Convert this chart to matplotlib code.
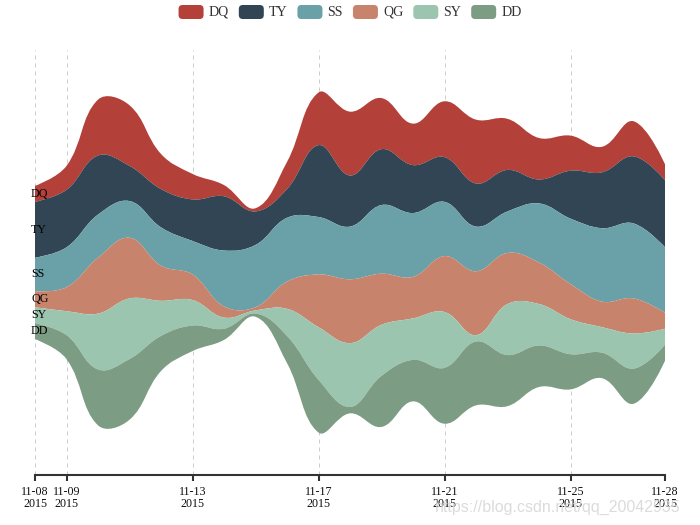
import numpy as np
import matplotlib
matplotlib.use('Agg')
import matplotlib.pyplot as plt
from matplotlib.path import Path
from matplotlib.patches import PathPatch, FancyBboxPatch

# ---------------- data ----------------
dates = ['2015/11/08', '2015/11/09', '2015/11/10', '2015/11/11', '2015/11/12',
         '2015/11/13', '2015/11/14', '2015/11/15', '2015/11/16', '2015/11/17',
         '2015/11/18', '2015/11/19', '2015/11/20', '2015/11/21', '2015/11/22',
         '2015/11/23', '2015/11/24', '2015/11/25', '2015/11/26', '2015/11/27',
         '2015/11/28']
names = ['DQ', 'TY', 'SS', 'QG', 'SY', 'DD']
DQ = [10, 15, 35, 38, 22, 16, 7, 2, 17, 33, 40, 32, 26, 35, 40, 32, 26, 22, 16, 22, 10]
TY = [35, 36, 37, 22, 24, 26, 34, 21, 18, 45, 32, 35, 30, 28, 27, 26, 15, 30, 35, 42, 42]
SS = [21, 25, 27, 23, 24, 21, 35, 39, 40, 36, 33, 43, 40, 34, 28, 26, 37, 41, 46, 47, 41]
QG = [10, 15, 35, 38, 22, 16, 7, 2, 17, 33, 40, 32, 26, 35, 40, 32, 26, 22, 16, 22, 10]
SY = [10, 15, 35, 38, 22, 16, 7, 2, 17, 33, 40, 32, 26, 35, 4, 32, 26, 22, 16, 22, 10]
DD = [10, 15, 35, 38, 22, 16, 7, 2, 17, 33, 4, 32, 26, 35, 40, 32, 26, 22, 16, 22, 10]
tick_dates = ['2015/11/08', '2015/11/09', '2015/11/13', '2015/11/17',
              '2015/11/21', '2015/11/25', '2015/11/28']

series = [DQ, TY, SS, QG, SY, DD]
colors = ['#b4403a', '#324554', '#6aa1a8', '#c8836c', '#9cc5af', '#7c9c83']

# ---------------- layout constants (pixels) ----------------
W, H = 700, 525
ax_left, ax_right = 35, 665
ax_top, ax_bottom = 50, 475
FONT = 'Liberation Serif'

vals = np.array(series, dtype=float)           # layers x points
npts = vals.shape[1]
xs = np.arange(npts, dtype=float)
sums = vals.sum(axis=0)
vmax = sums.max()
base = (vmax - sums) / 2.0                      # centred baseline (silhouette)
gap = 0.125 * vmax                              # 10% boundary gap of rect height

rect_h = ax_bottom - ax_top
ky = (rect_h * 0.8) / vmax                      # px per value unit
kx = (ax_right - ax_left) / (npts - 1)          # px per day


def smooth_curve(px, py, smooth=0.4):
    """ECharts(4)-style smooth bezier through points (pixel-scaled space)."""
    n = len(px)
    verts = []
    cp0 = (px[0], py[0])
    for i in range(1, n):
        x, y = px[i], py[i]
        qx, qy = px[i - 1], py[i - 1]
        if i == n - 1:
            cp1 = (x, y)
            ncp0 = None
        else:
            nx, ny = px[i + 1], py[i + 1]
            vx, vy = nx - qx, ny - qy
            lp = np.hypot(x - qx, y - qy)
            ln = np.hypot(nx - x, ny - y)
            r = ln / (ln + lp)
            cp1 = (x - vx * smooth * (1 - r), y - vy * smooth * (1 - r))
            ncp0 = (x + vx * smooth * r, y + vy * smooth * r)
        verts += [cp0, cp1, (x, y)]
        cp0 = ncp0
    return verts


def to_data(v):
    return [(a / kx, b / ky) for a, b in v]


fig = plt.figure(figsize=(W / 100, H / 100), dpi=100)
ax = fig.add_axes([ax_left / W, (H - ax_bottom) / H,
                   (ax_right - ax_left) / W, rect_h / H])
ax.set_xlim(0, npts - 1)
ax.set_ylim(vmax + gap, -gap)

# split lines
tick_idx = [dates.index(d) for d in tick_dates]
for t in tick_idx:
    ax.axvline(t, color='#cccccc', lw=0.72, dashes=(4, 4), zorder=0)

cum = base.copy()
for j, (name, col) in enumerate(zip(names, colors)):
    top = cum.copy()
    bot = cum + vals[j]
    cum = bot
    tpx, tpy = xs * kx, top * ky
    bpx, bpy = xs[::-1] * kx, bot[::-1] * ky
    verts = [(tpx[0], tpy[0])]
    codes = [Path.MOVETO]
    tv = smooth_curve(tpx, tpy)
    verts += tv
    codes += [Path.CURVE4] * len(tv)
    verts.append((bpx[0], bpy[0]))
    codes.append(Path.LINETO)
    bv = smooth_curve(bpx, bpy)
    verts += bv
    codes += [Path.CURVE4] * len(bv)
    verts.append((tpx[0], tpy[0]))
    codes.append(Path.CLOSEPOLY)
    path = Path(to_data(verts), codes)
    ax.add_patch(PathPatch(path, facecolor=col, edgecolor='none', lw=0, zorder=2))
    # layer label at first point
    mid = (top[0] + bot[0]) / 2.0
    ax.annotate(name, xy=(0, mid), xytext=(-4, 0), textcoords='offset pixels',
                ha='left', va='center', fontsize=12 * 0.72, family=FONT,
                color='#000000', zorder=5, annotation_clip=False)

# axis styling
for s in ['top', 'left', 'right']:
    ax.spines[s].set_visible(False)
ax.spines['bottom'].set_color('#333333')
ax.spines['bottom'].set_linewidth(1.5)
ax.set_yticks([])
ax.set_xticks(tick_idx)
ax.set_xticklabels([d[5:].replace('/', '-') + '\n' + d[:4] for d in tick_dates],
                   family=FONT, fontsize=12 * 0.72, linespacing=1.0, color='#111111')
ax.tick_params(axis='x', length=4, width=1.5, color='#333333', pad=4)
ax.patch.set_alpha(0)

# legend (pixel overlay)
lax = fig.add_axes([0, 0, 1, 1], zorder=10)
lax.set_xlim(0, W)
lax.set_ylim(H, 0)
lax.axis('off')
lfs = 14 * 0.72
renderer = fig.canvas.get_renderer()
widths = []
for name in names:
    t = lax.text(0, 0, name, fontsize=lfs, family=FONT)
    widths.append(t.get_window_extent(renderer).width)
    t.remove()
iw, ih, tgap, igap = 25, 14, 5, 10
total = sum(iw + tgap + w for w in widths) + igap * (len(names) - 1)
x = (W - total) / 2
yc = 12
for name, col, w in zip(names, colors, widths):
    lax.add_patch(FancyBboxPatch((x, yc - ih / 2), iw, ih,
                                 boxstyle='round,pad=0,rounding_size=4',
                                 facecolor=col, edgecolor='none'))
    lax.text(x + iw + tgap, yc, name, fontsize=lfs, family=FONT,
             va='center', ha='left', color='#333333')
    x += iw + tgap + w + igap

# watermark from source image
lax.text(680, 507, 'https://blog.csdn.net/qq_20042935', fontsize=16 * 0.72,
         family='Liberation Sans', color='#d8d8d8', ha='right', va='center',
         alpha=0.9)

fig.savefig('out.png', dpi=100)
